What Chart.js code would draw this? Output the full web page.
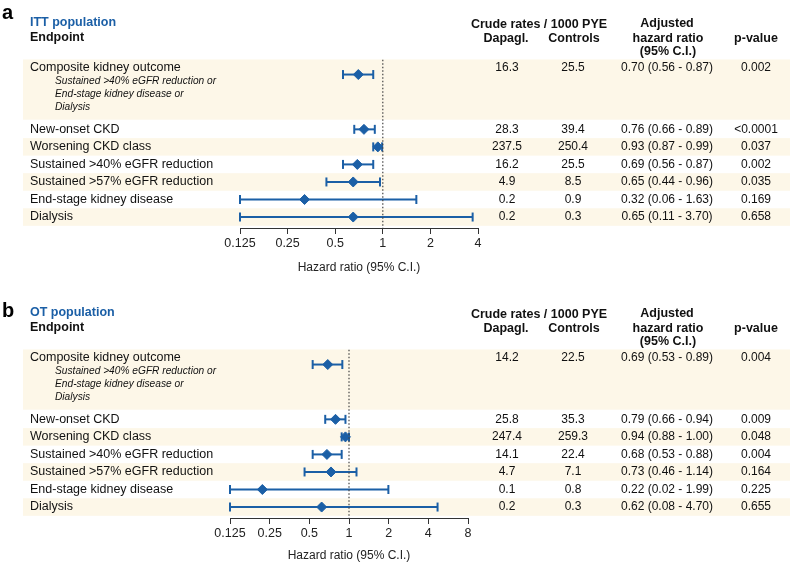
<!DOCTYPE html>
<html>
<head>
<meta charset="utf-8">
<script src="https://cdn.jsdelivr.net/npm/chart.js@4.4.1/dist/chart.umd.min.js"></script>
<style>
  body { margin: 0; background: #fff; }
  #wrap { position: relative; width: 790px; height: 564px; }
  canvas { position: absolute; left: 0; }
</style>
</head>
<body>
<div id="wrap">
  <canvas id="chartA" width="790" height="290" style="top:0"></canvas>
  <canvas id="chartB" width="790" height="274" style="top:290px"></canvas>
</div>
<script>
const endpoints = [
  'Composite kidney outcome',
  'New-onset CKD',
  'Worsening CKD class',
  'Sustained >40% eGFR reduction',
  'Sustained >57% eGFR reduction',
  'End-stage kidney disease',
  'Dialysis'
];
const compositeNote = ['Sustained >40% eGFR reduction or', 'End-stage kidney disease or', 'Dialysis'];

// ITT population
const ittHR = [0.70, 0.76, 0.93, 0.69, 0.65, 0.32, 0.65];
const ittLow = [0.56, 0.66, 0.87, 0.56, 0.44, 0.06, 0.11];
const ittHigh = [0.87, 0.89, 0.99, 0.87, 0.96, 1.63, 3.70];
const ittDapa = ['16.3', '28.3', '237.5', '16.2', '4.9', '0.2', '0.2'];
const ittCtrl = ['25.5', '39.4', '250.4', '25.5', '8.5', '0.9', '0.3'];
const ittP = ['0.002', '<0.0001', '0.037', '0.002', '0.035', '0.169', '0.658'];
const ittTicks = [0.125, 0.25, 0.5, 1, 2, 4];

// OT population
const otHR = [0.69, 0.79, 0.94, 0.68, 0.73, 0.22, 0.62];
const otLow = [0.53, 0.66, 0.88, 0.53, 0.46, 0.02, 0.08];
const otHigh = [0.89, 0.94, 1.00, 0.88, 1.14, 1.99, 4.70];
const otDapa = ['14.2', '25.8', '247.4', '14.1', '4.7', '0.1', '0.2'];
const otCtrl = ['22.5', '35.3', '259.3', '22.4', '7.1', '0.8', '0.3'];
const otP = ['0.004', '0.009', '0.048', '0.004', '0.164', '0.225', '0.655'];
const otTicks = [0.125, 0.25, 0.5, 1, 2, 4, 8];

const BLUE = '#1b5fa6';
const BAND = '#fdf7e8';
const FONT = '"Liberation Sans", Arial, sans-serif';
const Y_MIN = -1, Y_MAX = 8.75;

// composite row sits on its own taller block, the rest follow one per unit
const rowY = i => (i === 0 ? 0 : i + 2.125);

function fmtHR(hr, lo, hi, i) {
  return hr[i].toFixed(2) + ' (' + lo[i].toFixed(2) + ' - ' + hi[i].toFixed(2) + ')';
}

function makePanel(canvasId, cfg) {
  const xMin = cfg.ticks[0];
  const xMax = cfg.ticks[cfg.ticks.length - 1];

  const datasets = [];
  // reference line at HR = 1
  datasets.push({
    type: 'line',
    data: [{ x: 1, y: -0.85 }, { x: 1, y: Y_MAX }],
    borderColor: '#444',
    borderWidth: 1.2,
    borderDash: [1.5, 2],
    pointRadius: 0,
    clip: false
  });
  // confidence intervals
  cfg.hr.forEach((v, i) => {
    datasets.push({
      type: 'line',
      data: [
        { x: Math.max(cfg.lo[i], xMin), y: rowY(i) },
        { x: Math.min(cfg.hi[i], xMax), y: rowY(i) }
      ],
      borderColor: BLUE,
      borderWidth: 2,
      pointStyle: 'line',
      pointRotation: 90,
      pointRadius: 4.5,
      pointBorderWidth: 2,
      pointBorderColor: BLUE,
      clip: false
    });
  });
  // point estimates
  datasets.push({
    type: 'scatter',
    data: cfg.hr.map((v, i) => ({ x: v, y: rowY(i) })),
    pointStyle: 'rectRot',
    pointRadius: 5,
    backgroundColor: BLUE,
    borderColor: BLUE,
    borderWidth: 1,
    clip: false
  });

  const bandsPlugin = {
    id: 'bands',
    beforeDraw(chart) {
      const { ctx } = chart;
      const y = chart.scales.y;
      ctx.save();
      ctx.fillStyle = BAND;
      const top0 = y.getPixelForValue(-0.86);
      const bot0 = y.getPixelForValue(rowY(1) - 0.55);
      ctx.fillRect(23, top0, 790 - 23, bot0 - top0);
      for (let i = 2; i < endpoints.length; i += 2) {
        const t = y.getPixelForValue(rowY(i) - 0.5);
        const b = y.getPixelForValue(rowY(i) + 0.5);
        ctx.fillRect(23, t, 790 - 23, b - t);
      }
      ctx.restore();
    }
  };

  const textPlugin = {
    id: 'tableText',
    afterDraw(chart) {
      const { ctx } = chart;
      const y = chart.scales.y;
      ctx.save();

      // panel letter
      ctx.fillStyle = '#000';
      ctx.font = 'bold 20px ' + FONT;
      ctx.textBaseline = 'alphabetic';
      ctx.textAlign = 'left';
      ctx.fillText(cfg.letter, 2, cfg.letterBase);
      ctx.textBaseline = 'middle';

      // headers
      ctx.font = 'bold 12.5px ' + FONT;
      ctx.fillStyle = BLUE;
      ctx.fillText(cfg.title, 30, 23);
      ctx.fillStyle = '#111';
      ctx.fillText('Endpoint', 30, 38);
      ctx.textAlign = 'center';
      ctx.fillText('Crude rates / 1000 PYE', 539, 25);
      ctx.fillText('Dapagl.', 506, 38.5);
      ctx.fillText('Controls', 574, 38.5);
      ctx.fillText('Adjusted', 667, 23.5);
      ctx.fillText('hazard ratio', 668, 38.5);
      ctx.fillText('(95% C.I.)', 668, 52);
      ctx.fillText('p-value', 756, 38.5);

      // rows
      endpoints.forEach((name, i) => {
        let py = y.getPixelForValue(rowY(i));
        if (i === 0) py -= 7;
        ctx.fillStyle = '#111';
        ctx.textAlign = 'left';
        ctx.font = '12.5px ' + FONT;
        ctx.fillText(name, 30, py);
        ctx.textAlign = 'center';
        ctx.font = '12px ' + FONT;
        ctx.fillText(cfg.dapa[i], 507, py);
        ctx.fillText(cfg.ctrl[i], 573, py);
        ctx.fillText(fmtHR(cfg.hr, cfg.lo, cfg.hi, i), 667, py);
        ctx.fillText(cfg.p[i], 756, py);
      });

      // composite definition
      ctx.textAlign = 'left';
      ctx.font = 'italic 10.2px ' + FONT;
      const c0 = y.getPixelForValue(rowY(0));
      compositeNote.forEach((line, k) => {
        ctx.fillText(line, 55, c0 + 6.5 + k * 13);
      });
      ctx.restore();
    }
  };

  return new Chart(document.getElementById(canvasId), {
    data: { datasets },
    options: {
      responsive: false,
      maintainAspectRatio: false,
      animation: false,
      events: [],
      layout: { padding: { left: cfg.left, right: 790 - cfg.right, top: 57, bottom: cfg.padBottom } },
      plugins: { legend: { display: false }, tooltip: { enabled: false } },
      scales: {
        x: {
          type: 'logarithmic',
          min: xMin,
          max: xMax,
          afterBuildTicks: s => { s.ticks = cfg.ticks.map(v => ({ value: v })); },
          afterFit: s => { s.height = cfg.axisH; },
          ticks: {
            callback: v => String(v),
            color: '#222',
            font: { family: FONT, size: 12.5 },
            padding: 2,
            autoSkip: false,
            maxRotation: 0
          },
          grid: { drawOnChartArea: false, drawTicks: true, tickLength: 6, color: '#333' },
          border: { display: true, color: '#333', width: 1 },
          title: {
            display: true,
            text: 'Hazard ratio (95% C.I.)',
            color: '#222',
            font: { family: FONT, size: 12 },
            padding: 0
          }
        },
        y: { type: 'linear', reverse: true, min: Y_MIN, max: Y_MAX, display: false }
      }
    },
    plugins: [bandsPlugin, textPlugin]
  });
}

makePanel('chartA', {
  letter: 'a', letterBase: 19, title: 'ITT population',
  hr: ittHR, lo: ittLow, hi: ittHigh, dapa: ittDapa, ctrl: ittCtrl, p: ittP,
  ticks: ittTicks, left: 240, right: 478, axisH: 47.2, padBottom: 14.8
});

makePanel('chartB', {
  letter: 'b', letterBase: 27, title: 'OT population',
  hr: otHR, lo: otLow, hi: otHigh, dapa: otDapa, ctrl: otCtrl, p: otP,
  ticks: otTicks, left: 230, right: 468, axisH: 45.2, padBottom: 0.8
});
</script>
</body>
</html>
